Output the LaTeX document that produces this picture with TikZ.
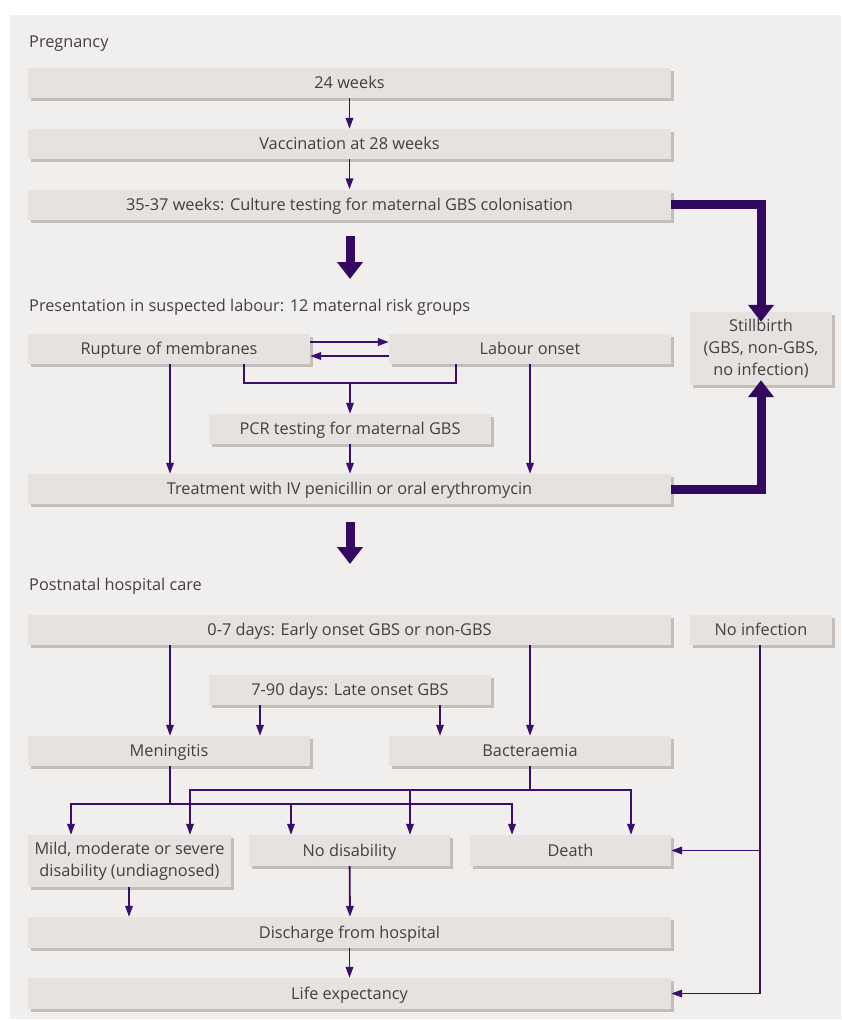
\documentclass[tikz,border=0pt]{standalone}
\usepackage{fontspec}
\setmainfont{Open Sans}
\usetikzlibrary{arrows.meta,shadows}
\definecolor{panel}{HTML}{F1EFED}
\definecolor{boxc}{HTML}{E6E2DF}
\definecolor{shadowc}{HTML}{C4BDB9}
\definecolor{txt}{HTML}{433F3F}
\definecolor{purp}{HTML}{3A0D6E}
\definecolor{dpurp}{HTML}{33085F}
\tikzset{
  box/.style={rectangle, fill=boxc, inner sep=0pt, text=txt, align=center,
    font=\fontsize{16.3}{22}\selectfont,
    drop shadow={shadow xshift=3pt, shadow yshift=-3pt, fill=shadowc, opacity=1}},
  one/.style={box, text height=15pt, text depth=4pt},
  lbl/.style={anchor=base west, inner sep=0pt, text=txt, font=\fontsize{16.3}{22}\selectfont},
  conn/.style={draw=purp, line width=1.8pt},
  arr/.style={conn, -{Triangle[length=11pt,width=7.5pt]}},
  bigarr/.style={draw=dpurp, line width=9pt, -{Triangle[length=17pt,width=25pt]}},
}
\begin{document}
\begin{tikzpicture}[x=1pt,y=-1pt]
\useasboundingbox (0,0) rectangle (841,1020);
\fill[panel] (10,15) rectangle (841,1019);

% section labels
\node[lbl] (sPreg) at (29,47) {Pregnancy};
\node[lbl] (sPres) at (29,311) {Presentation in suspected labour: 12 maternal risk groups};
\node[lbl] (sPost) at (29,590) {Postnatal hospital care};

% pregnancy
\node[one, minimum width=643, minimum height=30] (w24) at (349.5,83) {24 weeks};
\node[one, minimum width=643, minimum height=30] (vac) at (349.5,144) {Vaccination at 28 weeks};
\node[one, minimum width=643, minimum height=30] (cult) at (349.5,204.5) {35-37 weeks: Culture testing for maternal GBS colonisation};

% labour
\node[one, minimum width=282, minimum height=30] (rup) at (169,349) {Rupture of membranes};
\node[one, minimum width=282, minimum height=30] (lab) at (530,349) {Labour onset};
\node[box, minimum width=142, minimum height=73] (still) at (761,348.5) {Stillbirth\\(GBS, non-GBS,\\no infection)};
\node[one, minimum width=282, minimum height=30] (pcr) at (350,429) {PCR testing for maternal GBS};
\node[one, minimum width=643, minimum height=30] (treat) at (349.5,489) {Treatment with IV penicillin or oral erythromycin};

% postnatal
\node[one, minimum width=643, minimum height=30] (early) at (349.5,630) {0-7 days: Early onset GBS or non-GBS};
\node[one, minimum width=142, minimum height=30] (noinf) at (761,630) {No infection};
\node[one, minimum width=282, minimum height=30] (late) at (350,690) {7-90 days: Late onset GBS};
\node[one, minimum width=282, minimum height=30] (men) at (169,751) {Meningitis};
\node[one, minimum width=282, minimum height=30] (bac) at (530,751) {Bacteraemia};
\node[box, minimum width=203, minimum height=52] (mild) at (129.5,861) {Mild, moderate or severe\\disability (undiagnosed)};
\node[one, minimum width=201, minimum height=31] (nodis) at (349.5,850.5) {No disability};
\node[one, minimum width=201, minimum height=31] (death) at (570.5,850.5) {Death};
\node[one, minimum width=643, minimum height=31] (disch) at (349.5,932.5) {Discharge from hospital};
\node[one, minimum width=643, minimum height=31] (life) at (349.5,993.5) {Life expectancy};

% pregnancy connectors
\draw[arr] (w24) -- (vac);
\draw[arr] (vac) -- (cult);
\coordinate (b1s) at (350,236);
\coordinate (b1e) at (350,279);
\draw[bigarr] (b1s) -- (b1e);
\draw[bigarr] (cult.east) -| ([yshift=-10pt]still.north);

% labour connectors
\draw[arr] (rup.east |- 0,342) -- (lab.west |- 0,342);
\draw[arr] (lab.west |- 0,356) -- (rup.east |- 0,356);
\draw[conn] (244,0 |- rup.south) -- (244,383) -- (456,383) -- (456,0 |- lab.south);
\draw[arr] (350,383) -- (pcr.north);
\draw[arr] (170,0 |- rup.south) -- (170,0 |- treat.north);
\draw[arr] (530,0 |- lab.south) -- (530,0 |- treat.north);
\draw[arr] (pcr) -- (350,0 |- treat.north);
\draw[bigarr] (treat.east) -| ([yshift=5pt]still.south);
\coordinate (b2s) at (350,522);
\coordinate (b2e) at (350,564);
\draw[bigarr] (b2s) -- (b2e);

% postnatal connectors
\draw[arr] (170,0 |- early.south) -- (170,0 |- men.north);
\draw[arr] (530,0 |- early.south) -- (530,0 |- bac.north);
\draw[arr] (260,0 |- late.south) -- (260,0 |- men.north);
\draw[arr] (440,0 |- late.south) -- (440,0 |- bac.north);

\draw[arr] (170,0 |- men.south) -- (170,804) -| (71,0 |- mild.north);
\draw[arr] (170,804) -| (291,0 |- nodis.north);
\draw[arr] (170,804) -| (512,0 |- death.north);

\draw[arr] (530,0 |- bac.south) -- (530,790) -| (190,0 |- mild.north);
\draw[arr] (530,790) -| (410,0 |- nodis.north);
\draw[arr] (530,790) -| (631,0 |- death.north);

\draw[arr] (760,0 |- noinf.south) |- (death.east);
\draw[arr] (760,850) |- (life.east);

\draw[arr] (129,0 |- mild.south) -- (129,0 |- disch.north);
\draw[arr] (nodis) -- (350,0 |- disch.north);
\draw[arr] (disch) -- (life);
\end{tikzpicture}
\end{document}
